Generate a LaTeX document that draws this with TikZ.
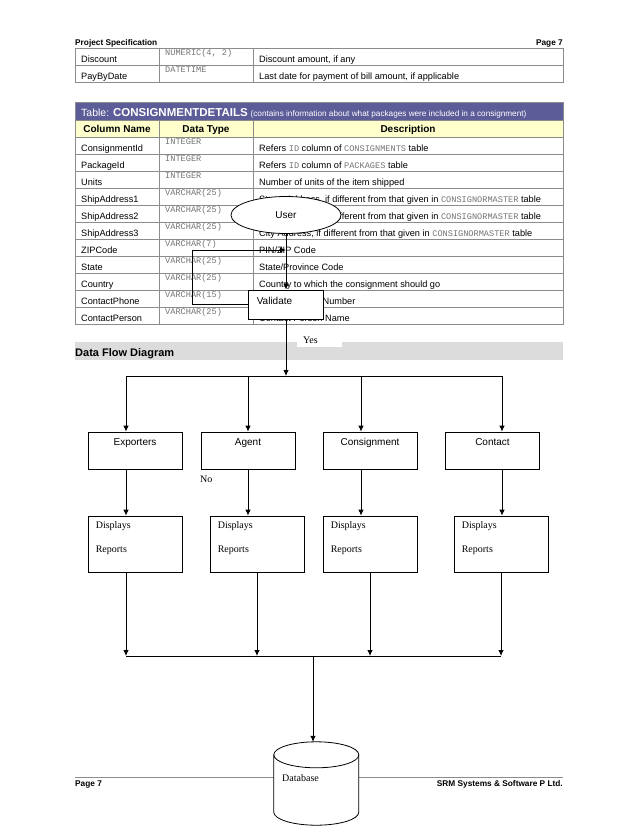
\documentclass[tikz,border=0pt]{standalone}
\usepackage{fontspec}
\setmainfont{Liberation Sans}
\setmonofont{Liberation Mono}
\newfontfamily\timesfam{Liberation Serif}
\usepackage{tikz}
\usetikzlibrary{shapes.geometric,arrows.meta,positioning,calc}
\definecolor{hdrband}{HTML}{5C5C99}
\definecolor{colband}{HTML}{FFFFCC}
\definecolor{secband}{HTML}{DCDCDC}
\definecolor{rulegray}{HTML}{8C8C8C}
\newcommand{\code}[1]{{\ttfamily\fontsize{8.6}{10}\selectfont\color{black!55}#1}}

\begin{document}
\begin{tikzpicture}[x=1pt,y=-1pt,
  font=\fontsize{9.2}{11}\selectfont,
  every node/.style={inner sep=0pt},
  grid/.style={draw=rulegray,line width=0.6pt},
  cell/.style={anchor=base west},
  dtype/.style={anchor=base west,font=\ttfamily\fontsize{8.6}{10}\selectfont,text=black!55},
  colhead/.style={anchor=base,font=\bfseries\fontsize{10}{12}\selectfont},
  pagetext/.style={font=\bfseries\fontsize{8.3}{10}\selectfont},
  proc/.style={draw,fill=white,line width=0.8pt,font=\fontsize{10}{12}\selectfont},
  entity/.style={proc,minimum width=94pt,minimum height=37pt},
  report/.style={proc,minimum width=94pt,minimum height=56pt},
  ename/.style={anchor=base,font=\fontsize{10}{12}\selectfont},
  tag/.style={font=\timesfam\fontsize{10}{12}\selectfont},
  rtext/.style={anchor=base west,font=\timesfam\fontsize{10}{12}\selectfont},
  flow/.style={-{Latex[length=6pt,width=5.5pt]},line width=0.8pt},
  wire/.style={line width=0.8pt}
]
\useasboundingbox (0,0) rectangle (638,826);

% page header
\node[pagetext,anchor=base west] (hdrL) at (75,46) {Project Specification};
\node[pagetext,anchor=base east] (hdrR) at (563,46) {Page 7};

% end of previous table
\draw[grid] (75,48) rectangle (563,82);
\draw[grid] (75,65) -- (563,65);
\foreach \cx in {159,253} \draw[grid] (\cx,48) -- (\cx,82);
\foreach \nm/\ty/\ds [count=\i from 0] in {
  Discount/{NUMERIC(4, 2)}/{Discount amount, if any},
  PayByDate/DATETIME/{Last date for payment of bill amount, if applicable}} {
  \node[cell]  (pn\i) at (81,{48+17*\i+15}) {\nm};
  \node[dtype] (pt\i) at (165,{48+17*\i+8}) {\ty};
  \node[cell]  (pd\i) at (259,{48+17*\i+15}) {\ds};
}

% table CONSIGNMENTDETAILS
\fill[hdrband] (75,102) rectangle (563,120);
\fill[colband] (75,120) rectangle (563,137);
\draw[grid] (75,102) rectangle (563,324);
\draw[grid] (75,120) -- (563,120);
\foreach \ry in {137,154,...,307} \draw[grid] (75,\ry) -- (563,\ry);
\foreach \cx in {159,253} \draw[grid] (\cx,120) -- (\cx,324);
\node[anchor=base west,text=white] (title) at (81,117)
  {\fontsize{10.5}{12}\selectfont Table: \textbf{\fontsize{11.5}{12}\selectfont CONSIGNMENTDETAILS}
   {\fontsize{8.2}{9}\selectfont (contains information about what packages were included in a consignment)}};
\node[colhead] (hName) at (117,132.6) {Column Name};
\node[colhead] (hType) at (206,132.6) {Data Type};
\node[colhead] (hDesc) at (408,132.6) {Description};
\foreach \nm/\ty/\ds [count=\i from 0] in {
  ConsignmentId/INTEGER/{Refers \code{ID} column of \code{CONSIGNMENTS} table},
  PackageId/INTEGER/{Refers \code{ID} column of \code{PACKAGES} table},
  Units/INTEGER/{Number of units of the item shipped},
  ShipAddress1/{VARCHAR(25)}/{Street Address, if different from that given in \code{CONSIGNORMASTER} table},
  ShipAddress2/{VARCHAR(25)}/{Street Address, if different from that given in \code{CONSIGNORMASTER} table},
  ShipAddress3/{VARCHAR(25)}/{City Address, if different from that given in \code{CONSIGNORMASTER} table},
  ZIPCode/{VARCHAR(7)}/{PIN/ZIP Code},
  State/{VARCHAR(25)}/{State/Province Code},
  Country/{VARCHAR(25)}/{Country to which the consignment should go},
  ContactPhone/{VARCHAR(15)}/{Contact Phone Number},
  ContactPerson/{VARCHAR(25)}/{Contact Person Name}} {
  \node[cell]  (cn\i) at (81,{137+17*\i+14.5}) {\nm};
  \node[dtype] (ct\i) at (165,{137+17*\i+7.7}) {\ty};
  \node[cell]  (cd\i) at (259,{137+17*\i+14.5}) {\ds};
}

% section heading
\fill[secband] (75,342) rectangle (563,360);
\node[anchor=base west,font=\bfseries\fontsize{11}{13}\selectfont] (dfd) at (75,356.5) {Data Flow Diagram};
\node[tag,fill=white,anchor=north west,minimum height=14pt,inner xsep=6pt,text width=33pt] (yes) at (297,333) {Yes};

% user and validation
\node[proc,ellipse,minimum width=110pt,minimum height=37pt] (user) at (286,215) {User};
\node[proc,minimum width=75pt,minimum height=29pt] (val) at (286,304.5) {};
\node[ename,anchor=base west] (valtxt) at ($(val.west)+(8.5,0)$) {Validate};
\coordinate (loopc) at (192,250);
\coordinate (loopend) at (286,250);
\draw[flow] (user.south) -- (val.north);
\draw[flow] (val.west) -| (loopc) -- (loopend);

% split bar
\coordinate (s1) at (126,376);
\coordinate (s2) at (248,376);
\coordinate (s3) at (361,376);
\coordinate (s4) at (502,376);
\draw[flow] (val.south) -- (val.south |- s1);
\draw[wire] (s1) -- (s4);

% entities
\node[entity] (exp)  at (135,450.5) {};
\node[entity] (agt)  at (248,450.5) {};
\node[entity] (cons) at (370,450.5) {};
\node[entity] (cont) at (492.5,450.5) {};
\node[ename] (expT)  at ($(exp.north)+(0,13.6)$)  {Exporters};
\node[ename] (agtT)  at ($(agt.north)+(0,13.6)$)  {Agent};
\node[ename] (consT) at ($(cons.north)+(0,13.6)$) {Consignment};
\node[ename] (contT) at ($(cont.north)+(0,13.6)$) {Contact};
\node[tag,anchor=west] (no) at (200,479) {No};

% reports
\node[report] (r1) at (135,544) {};
\node[report] (r2) at (257,544) {};
\node[report] (r3) at (370,544) {};
\node[report] (r4) at (501,544) {};
\foreach \r in {r1,r2,r3,r4} {
  \node[rtext] (\r d) at ($(\r.north west)+(8,13.3)$) {Displays};
  \node[rtext] (\r p) at ($(\r.north west)+(8,37.3)$) {Reports};
}

\foreach \src/\dst/\s in {exp/r1/s1, agt/r2/s2, cons/r3/s3, cont/r4/s4} {
  \draw[flow] (\s) -- (\s |- \src.north);
  \draw[flow] (\s |- \src.south) -- (\s |- \dst.north);
}

% merge bar
\coordinate (m1) at (126,656);
\coordinate (m2) at (257,656);
\coordinate (m3) at (370,656);
\coordinate (m4) at (501,656);
\coordinate (mdb) at (313,656);
\foreach \r/\m in {r1/m1, r2/m2, r3/m3, r4/m4}
  \draw[flow] (\m |- \r.south) -- (\m);
\draw[wire] (m1) -- (m4);

% page footer
\draw[rulegray,line width=0.8pt] (75,777) -- (563,777);
\node[pagetext,anchor=base west] (ftL) at (75,786) {Page 7};
\node[pagetext,anchor=base east] (ftR) at (563,786) {SRM Systems \& Software P Ltd.};

% database
\node[minimum width=85pt,minimum height=83pt] (db) at (316.5,783.5) {};
\coordinate (dbtop) at ($(db.north west)+(0,13)$);
\coordinate (dbbot) at ($(db.south west)+(0,-13)$);
\filldraw[fill=white,line width=0.8pt] (dbtop) -- (dbbot)
  arc[start angle=180,end angle=0,x radius=42.5,y radius=13]
  -- ($(dbtop)+(85,0)$)
  arc[start angle=0,end angle=-180,x radius=42.5,y radius=13];
\draw[line width=0.8pt] (dbtop) arc[start angle=180,end angle=0,x radius=42.5,y radius=13];
\node[tag,anchor=base west] (dbT) at (282,781.3) {Database};
\draw[flow] (mdb) -- (mdb |- db.north);
\end{tikzpicture}
\end{document}
